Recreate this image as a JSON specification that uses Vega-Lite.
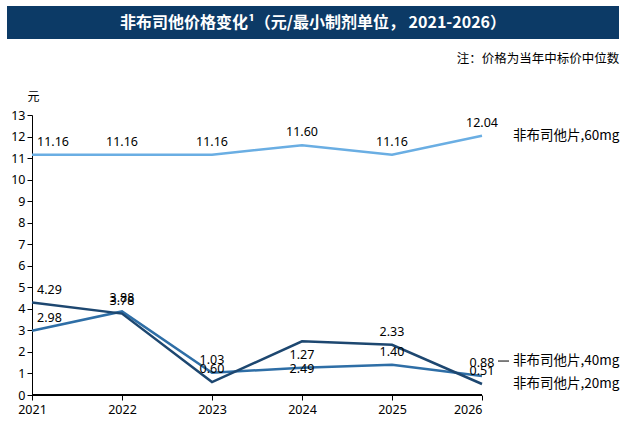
{
  "$schema": "https://vega.github.io/schema/vega-lite/v6.json",
  "background": "white",
  "padding": {"left": 7, "top": 6, "right": 0, "bottom": 0},
  "spacing": 13,
  "config": {
    "view": {"stroke": null},
    "font": "Noto Sans CJK SC",
    "axis": {"labelFont": "Noto Sans", "labelFontSize": 12, "labelColor": "#000", "domainColor": "#000", "tickColor": "#000", "grid": false, "tickSize": 5}
  },
  "datasets": {
    "prices": [
      {"year": 2021, "series": "非布司他片,60mg", "price": 11.16},
      {"year": 2022, "series": "非布司他片,60mg", "price": 11.16},
      {"year": 2023, "series": "非布司他片,60mg", "price": 11.16},
      {"year": 2024, "series": "非布司他片,60mg", "price": 11.60},
      {"year": 2025, "series": "非布司他片,60mg", "price": 11.16},
      {"year": 2026, "series": "非布司他片,60mg", "price": 12.04},
      {"year": 2021, "series": "非布司他片,40mg", "price": 2.98},
      {"year": 2022, "series": "非布司他片,40mg", "price": 3.88},
      {"year": 2023, "series": "非布司他片,40mg", "price": 1.03},
      {"year": 2024, "series": "非布司他片,40mg", "price": 1.27},
      {"year": 2025, "series": "非布司他片,40mg", "price": 1.40},
      {"year": 2026, "series": "非布司他片,40mg", "price": 0.88},
      {"year": 2021, "series": "非布司他片,20mg", "price": 4.29},
      {"year": 2022, "series": "非布司他片,20mg", "price": 3.78},
      {"year": 2023, "series": "非布司他片,20mg", "price": 0.60},
      {"year": 2024, "series": "非布司他片,20mg", "price": 2.49},
      {"year": 2025, "series": "非布司他片,20mg", "price": 2.33},
      {"year": 2026, "series": "非布司他片,20mg", "price": 0.51}
    ]
  },
  "vconcat": [
    {
      "width": 612,
      "height": 33,
      "view": {"fill": "#0c3a66", "stroke": null},
      "data": {"values": [{"t": "非布司他价格变化¹（元/最小制剂单位， 2021-2026）"}]},
      "mark": {"type": "text", "color": "white", "fontSize": 16, "fontWeight": "bold", "font": "Noto Sans CJK SC", "baseline": "middle", "align": "center"},
      "encoding": {"text": {"field": "t", "type": "nominal"}}
    },
    {
      "width": 475,
      "height": 280,
      "title": {"text": "注：价格为当年中标价中位数", "anchor": "end", "frame": "bounds", "fontSize": 12.5, "fontWeight": "normal", "font": "Noto Sans CJK SC", "color": "#000", "offset": 25},
      "data": {"name": "prices"},
      "encoding": {
        "x": {"field": "year", "type": "quantitative", "scale": {"domain": [2020.7222, 2026], "nice": false, "zero": false},
              "axis": {"values": [2021, 2022, 2023, 2024, 2025, 2026], "format": "d", "domain": false, "title": null, "labelFontSize": 12.5, "labelPadding": 3}},
        "y": {"field": "price", "type": "quantitative", "scale": {"domain": [0, 13], "nice": false, "zero": true},
              "axis": {"values": [0,1,2,3,4,5,6,7,8,9,10,11,12,13], "offset": -25, "title": "元", "titleAngle": 0, "titleX": 1, "titleY": -19, "titleAlign": "center", "titleBaseline": "middle", "titleFont": "Noto Sans CJK SC", "titleFontSize": 12, "titleFontWeight": "normal", "titleColor": "#000", "labelFontSize": 12.5}},
        "color": {"field": "series", "type": "nominal", "legend": null,
                  "scale": {"domain": ["非布司他片,60mg", "非布司他片,40mg", "非布司他片,20mg"], "range": ["#6aaee3", "#2e6ea6", "#1d4770"]}}
      },
      "layer": [
        {
          "mark": {"type": "rule", "color": "#000", "strokeWidth": 1},
          "encoding": {"x": {"datum": 2021, "type": "quantitative"}, "x2": {"datum": 2026}, "y": {"datum": 0, "type": "quantitative"}, "color": {"value": "#000"}}
        },
        {
          "mark": {"type": "line", "strokeWidth": 2.5}
        },
        {
          "transform": [{"filter": "datum.year != 2021 && !(datum.year == 2024 && datum.series == '非布司他片,20mg')"}],
          "mark": {"type": "text", "font": "Noto Sans", "fontSize": 12.5, "dy": -13, "align": "center", "baseline": "middle", "color": "#000"},
          "encoding": {"text": {"field": "price", "type": "quantitative", "format": ".2f"}, "color": {"value": "#000"}}
        },
        {
          "transform": [{"filter": "datum.year == 2021"}],
          "mark": {"type": "text", "font": "Noto Sans", "fontSize": 12.5, "dy": -13, "dx": 5, "align": "left", "baseline": "middle", "color": "#000"},
          "encoding": {"text": {"field": "price", "type": "quantitative", "format": ".2f"}, "color": {"value": "#000"}}
        },
        {
          "transform": [{"filter": "datum.year == 2024 && datum.series == '非布司他片,20mg'"}],
          "mark": {"type": "text", "font": "Noto Sans", "fontSize": 12.5, "dy": 28, "align": "center", "baseline": "middle", "color": "#000"},
          "encoding": {"text": {"field": "price", "type": "quantitative", "format": ".2f"}, "color": {"value": "#000"}}
        },
        {
          "transform": [{"filter": "datum.year == 2026 && datum.series != '非布司他片,40mg'"}],
          "mark": {"type": "text", "font": "Noto Sans CJK SC", "fontSize": 13.5, "dx": 31, "align": "left", "baseline": "middle", "color": "#000"},
          "encoding": {"text": {"field": "series", "type": "nominal"}, "color": {"value": "#000"}}
        },
        {
          "transform": [{"filter": "datum.year == 2026 && datum.series == '非布司他片,40mg'"}],
          "mark": {"type": "text", "font": "Noto Sans CJK SC", "fontSize": 13.5, "dx": 31, "dy": -15, "align": "left", "baseline": "middle", "color": "#000"},
          "encoding": {"text": {"field": "series", "type": "nominal"}, "color": {"value": "#000"}}
        },
        {
          "transform": [{"filter": "datum.year == 2026 && datum.series == '非布司他片,40mg'"}],
          "mark": {"type": "rule", "color": "#000", "strokeWidth": 1, "xOffset": 16, "x2Offset": 27, "yOffset": -15, "y2Offset": -15},
          "encoding": {"x": {"field": "year", "type": "quantitative"}, "x2": {"field": "year"}, "y": {"field": "price", "type": "quantitative"}, "y2": {"field": "price"}, "color": {"value": "#000"}}
        }
      ]
    }
  ]
}
